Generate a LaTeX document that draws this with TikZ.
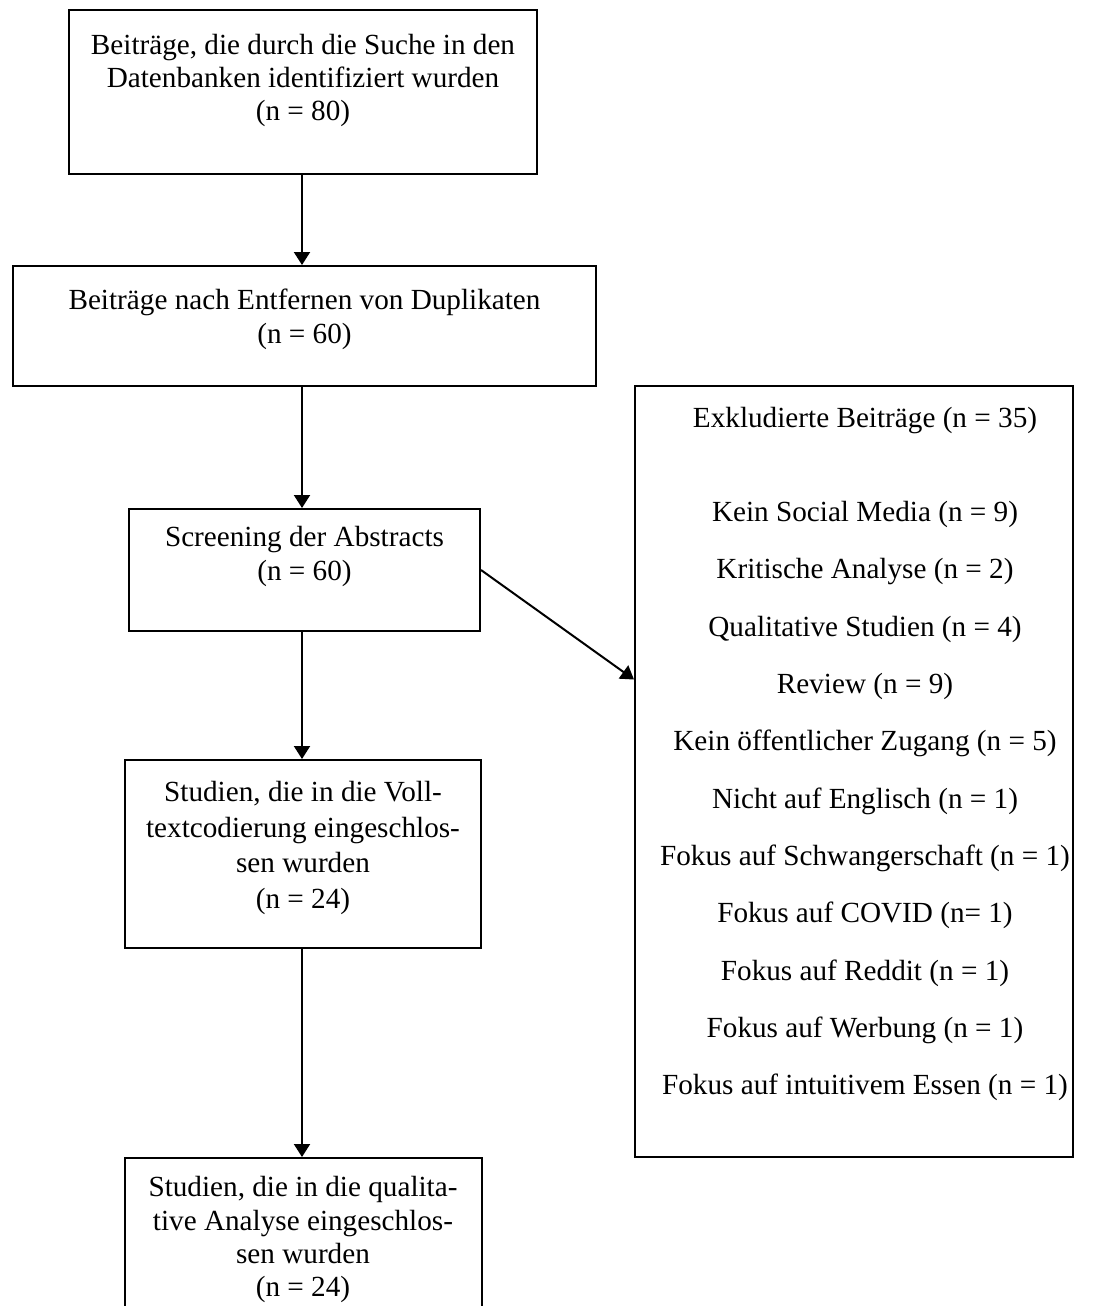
\documentclass[tikz,border=0pt]{standalone}
\usepackage{fontspec}
\setmainfont{Liberation Serif}
\usetikzlibrary{arrows.meta,calc}
\begin{document}
\begin{tikzpicture}[x=0.5pt,y=-0.5pt,
  box/.style 2 args={draw, line width=1pt, inner sep=0pt,
    minimum width=#1*0.5pt, minimum height=#2*0.5pt},
  txt/.style={inner sep=0pt, align=center, anchor=north,
    font=\fontsize{14.6pt}{17pt}\selectfont},
  widetxt/.style={txt, font=\fontsize{14.6pt}{17.8pt}\selectfont},
  listtxt/.style={inner sep=0pt, align=center, anchor=north,
    font=\fontsize{14.6pt}{28.65pt}\selectfont},
  arr/.style={line width=1pt, -{Triangle[length=6.5pt,width=8pt]}}]

\useasboundingbox (0,0) rectangle (1098,1306);
\clip (0,0) rectangle (1098,1306);

% flow boxes
\node[box={468}{164}] (b1) at (303,92) {};
\node[box={583}{120}] (b2) at (304.5,326) {};
\node[box={351}{122}] (b3) at (304.5,570) {};
\node[box={356}{188}] (b4) at (303,854) {};
\node[box={357}{200}] (b5) at (303,1258) {};
\node[box={438}{771}] (b6) at (854,771.5) {};

% box texts
\node[txt, font=\fontsize{14.6pt}{16.4pt}\selectfont] (t1) at ($(b1.north)+(0,25)$)
  {Beiträge, die durch die Suche in den\\Datenbanken identifiziert wurden\\(n = 80)};
\node[txt] (t2) at ($(b2.north)+(0,24)$)
  {Beiträge nach Entfernen von Duplikaten\\(n = 60)};
\node[txt] (t3) at ($(b3.north)+(0,18)$)
  {Screening der Abstracts\\(n = 60)};
\node[widetxt] (t4) at ($(b4.north)+(0,22)$)
  {Studien, die in die Voll-\\textcodierung eingeschlos-\\sen wurden\\(n = 24)};
\node[txt, font=\fontsize{14.6pt}{16.7pt}\selectfont] (t5) at ($(b5.north)+(0,19)$)
  {Studien, die in die qualita-\\tive Analyse eingeschlos-\\sen wurden\\(n = 24)};
\node[txt] (t6) at ($(b6.north)+(11,22)$)
  {Exkludierte Beiträge (n = 35)};
\node[listtxt] (t7) at ($(b6.north)+(11,116)$)
  {Kein Social Media (n = 9)\\
   Kritische Analyse (n = 2)\\
   Qualitative Studien (n = 4)\\
   Review (n = 9)\\
   Kein öffentlicher Zugang (n = 5)\\
   Nicht auf Englisch (n = 1)\\
   Fokus auf Schwangerschaft (n = 1)\\
   Fokus auf COVID (n= 1)\\
   Fokus auf Reddit (n = 1)\\
   Fokus auf Werbung (n = 1)\\
   Fokus auf intuitivem Essen (n = 1)};

% connectors
\coordinate (ax) at ($(b1.south)+(-1,0)$);
\coordinate (in6) at ($(b6.north west)!0.381!(b6.south west)$);
\draw[arr] (ax) -- (ax |- b2.north);
\draw[arr] (ax |- b2.south) -- (ax |- b3.north);
\draw[arr] (ax |- b3.south) -- (ax |- b4.north);
\draw[arr] (ax |- b4.south) -- (ax |- b5.north);
\draw[arr] (b3.east) -- (in6);
\end{tikzpicture}
\end{document}
